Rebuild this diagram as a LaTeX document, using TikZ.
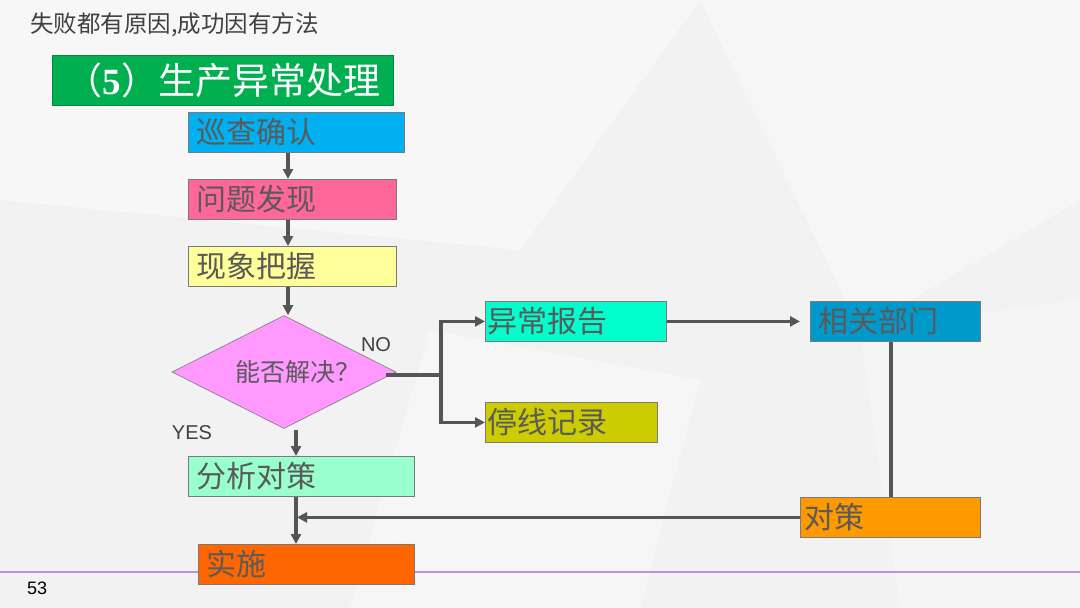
\documentclass[tikz,border=0pt]{standalone}
\usepackage{fontspec}
\setmainfont{Liberation Sans}
\newfontfamily\cjk{Noto Sans CJK SC}
\newfontfamily\serifb{Liberation Serif}
\usetikzlibrary{shapes.geometric,arrows.meta}
\definecolor{bg}{HTML}{F2F2F2}
\definecolor{txt}{HTML}{5A5A5A}
\definecolor{hdr}{HTML}{404040}
\definecolor{edge}{HTML}{555555}
\definecolor{boxline}{HTML}{7A7A7A}
\definecolor{cTitle}{HTML}{00B050}
\definecolor{cA}{HTML}{00B0F0}
\definecolor{cB}{HTML}{FF6699}
\definecolor{cC}{HTML}{FFFF99}
\definecolor{cD}{HTML}{FF99FF}
\definecolor{cR1}{HTML}{00FFCC}
\definecolor{cR2}{HTML}{CCCC00}
\definecolor{cDept}{HTML}{0099CC}
\definecolor{cCs}{HTML}{FF9900}
\definecolor{cF}{HTML}{99FFCC}
\definecolor{cS}{HTML}{FF6600}
\definecolor{purp}{HTML}{B795E2}
\tikzset{
  box/.style={draw=boxline, line width=0.8pt, anchor=north west, inner xsep=8pt, inner ysep=0pt,
    minimum height=40pt, align=left, text=txt, font=\cjk\fontsize{30}{32}\selectfont},
  arr/.style={draw=edge, line width=3.2pt, -{Triangle[length=10pt,width=10pt]}},
  plain/.style={draw=edge, line width=3.2pt},
  lbl/.style={text=hdr, font=\fontsize{20}{22}\selectfont, inner sep=0pt}
}
\begin{document}
\begin{tikzpicture}[x=1pt,y=-1pt]
\useasboundingbox (0,0) rectangle (1080,608);
\fill[bg] (0,0) rectangle (1080,608);
\fill[white,opacity=0.45] (0,0) -- (700,0) -- (520,250) -- (0,200) -- cycle;
\fill[white,opacity=0.35] (700,0) -- (1080,0) -- (1080,200) -- (860,330) -- cycle;
\fill[white,opacity=0.35] (430,330) -- (700,380) -- (640,608) -- (350,608) -- cycle;
\fill[white,opacity=0.3] (860,330) -- (1080,300) -- (1080,608) -- (900,608) -- cycle;

% footer line (behind boxes)
\draw[purp, line width=1.5pt] (0,572) -- (1080,572);

% header
\node[anchor=west, text=hdr, inner sep=0pt, font=\cjk\fontsize{23.5}{25}\selectfont] (hdr) at (30,25) {失败都有原因,成功因有方法};
\node[anchor=north west, fill=cTitle, draw=cTitle!80!black, line width=0.6pt, minimum width=341pt, minimum height=50pt, inner sep=0pt, text=white, font=\cjk\fontsize{37}{39}\selectfont] (title) at (52,55) {（{\serifb\bfseries 5}）生产异常处理};

% boxes
\node[box, fill=cA, text width=200pt] (a) at (188,112) {巡查确认};
\node[box, fill=cB, text width=192pt] (b) at (188,179) {问题发现};
\node[box, fill=cC, text width=192pt] (c) at (188,246) {现象把握};
\node[draw=boxline, line width=0.6pt, fill=cD, diamond, minimum width=224pt, minimum height=113pt, inner sep=0pt] (d) at (284,372) {};
\node[text=txt, inner sep=0pt, font=\cjk\fontsize{25}{27}\selectfont] (dt) at (298,372) {能否解决？};
\node[box, fill=cR1, inner xsep=2pt, text width=177pt] (r1) at (485,301) {异常报告};
\node[box, fill=cR2, inner xsep=2pt, text width=168pt] (r2) at (485,402) {停线记录};
\node[box, fill=cDept, text width=154pt] (dept) at (810,301) {相关部门};
\node[box, fill=cCs, inner xsep=4pt, text width=172pt] (cs) at (800,497) {对策};
\node[box, fill=cF, text width=210pt] (f) at (188,456) {分析对策};
\node[box, fill=cS, text width=200pt] (s) at (198,544) {实施};

% labels
\node[lbl] (no) at (376,345) {NO};
\node[lbl] (yes) at (192,433) {YES};

% connectors
\draw[arr] (a.south -| 288,0) -- (b.north -| 288,0);
\draw[arr] (b.south -| 288,0) -- (c.north -| 288,0);
\draw[arr] (c.south -| 288,0) -- (d.north -| 288,0);
\coordinate (j) at (441,375);
\coordinate (ds) at (386,375);
\draw[plain] (ds) -- (j);
\draw[arr] (j) |- (r1.west);
\draw[arr] (j) |- (r2.west);
\draw[arr, shorten >=10pt] (r1.east) -- (dept.west);
\draw[plain] (dept.south -| 891,0) -- (cs.north -| 891,0);
\draw[arr] (296,430) -- (f.north -| 296,0);
\draw[arr] (f.south -| 296,0) -- (s.north -| 296,0);
\draw[arr] (cs.west) -- (cs.west -| 297,0);

\node[anchor=west, text=black, inner sep=0pt, font=\fontsize{18}{20}\selectfont] (pg) at (27,588) {53};
\end{tikzpicture}
\end{document}
